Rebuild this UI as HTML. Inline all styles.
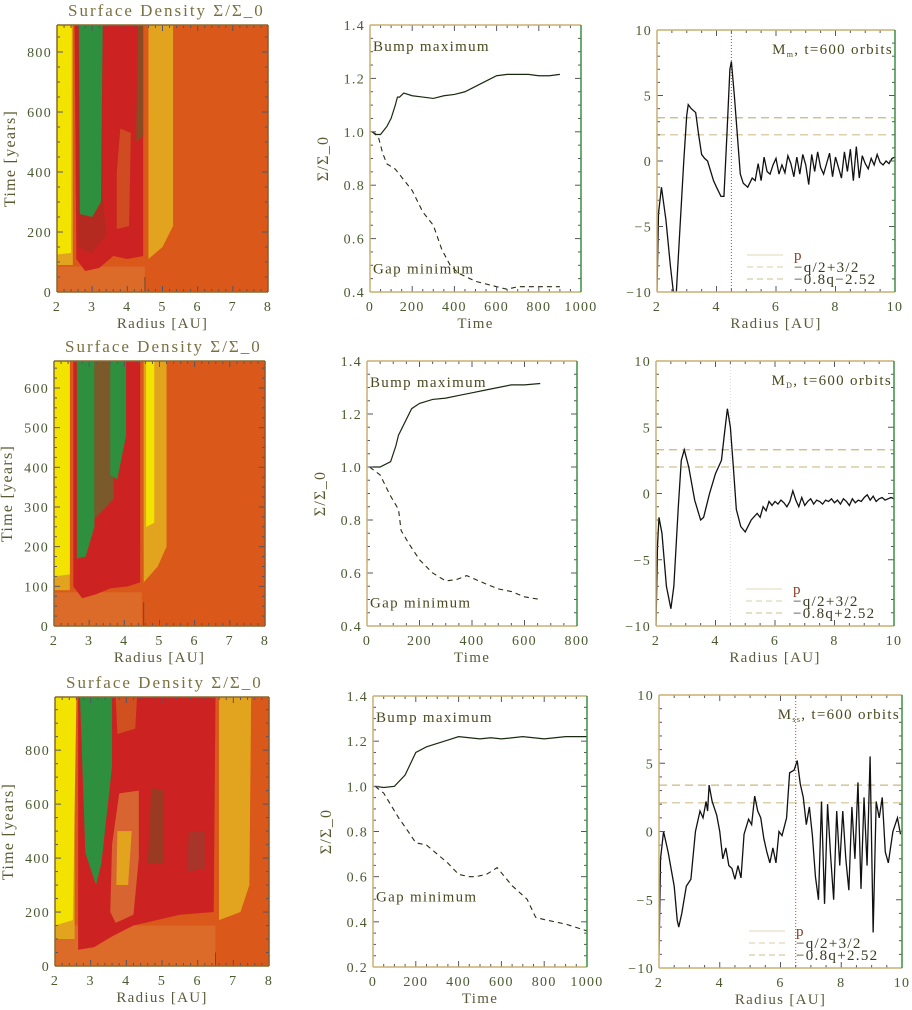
<!DOCTYPE html>
<html><head><meta charset="utf-8">
<style>
html,body{margin:0;padding:0;background:#fff;}
svg{display:block;}
text{font-family:"Liberation Serif","DejaVu Serif",serif;}
.sp{letter-spacing:1.3px;}
</style></head>
<body>
<svg id="fig" width="912" height="1010" viewBox="0 0 912 1010" xmlns="http://www.w3.org/2000/svg"></svg>
<script>
// ===== Heatmap region data (radius AU, time years, colour) =====
const heat1Regions = [
  [[[2,0],[8,0],[8,890],[2,890]], '#d9581a'],
  [[[2,0],[4.5,0],[4.5,85],[2,85]], '#dc6a28'],
  [[[2,90],[2.45,90],[2.45,890],[2,890]], '#e2a41e'],
  [[[2,125],[2.4,130],[2.42,890],[2,890]], '#f2e400'],
  [[[2.55,110],[2.8,70],[3.2,80],[3.6,120],[4.0,110],[4.45,120],[4.45,890],[2.5,890]], '#cc2222'],
  [[[2.6,150],[3.0,130],[3.4,190],[3.3,320],[3.3,890],[2.6,890]], '#b52a20'],
  [[[2.65,260],[3.0,250],[3.25,300],[3.3,890],[2.62,890]], '#2e8f3e'],
  [[[3.7,210],[4.05,220],[4.1,530],[3.8,545],[3.7,400]], '#d04a22'],
  [[[4.25,500],[4.45,520],[4.45,890],[4.3,890]], '#8a4a22'],
  [[[4.6,110],[5.0,150],[5.3,220],[5.3,890],[4.6,890]], '#e2a41e']
];
const heat2Regions = [
  [[[2,0],[8,0],[8,668],[2,668]], '#d9581a'],
  [[[2,0],[4.5,0],[4.5,85],[2,85]], '#dc6a28'],
  [[[2,90],[2.45,90],[2.45,668],[2,668]], '#e2a41e'],
  [[[2,125],[2.45,130],[2.45,668],[2,668]], '#f2e400'],
  [[[2.55,100],[2.8,70],[3.2,80],[3.6,95],[4.1,100],[4.45,110],[4.45,668],[2.55,668]], '#cc2222'],
  [[[2.65,170],[2.9,175],[3.15,250],[3.15,668],[2.65,668]], '#2e8f3e'],
  [[[3.15,270],[3.7,320],[3.65,668],[3.15,668]], '#7a5a2a'],
  [[[3.6,380],[3.8,370],[4.05,480],[4.05,668],[3.6,668]], '#2e8f3e'],
  [[[4.55,110],[4.95,150],[5.2,200],[5.2,668],[4.55,668]], '#e2a41e'],
  [[[4.62,250],[4.85,260],[4.85,668],[4.62,668]], '#f2e400']
];
const heat3Regions = [
  [[[2,0],[8,0],[8,997],[2,997]], '#d9581a'],
  [[[2,0],[6.5,0],[6.5,150],[2,150]], '#dc6a28'],
  [[[2,100],[2.55,100],[2.55,997],[2,997]], '#e2a41e'],
  [[[2,150],[2.5,170],[2.6,997],[2,997]], '#f2e400'],
  [[[2.65,60],[3.1,70],[3.6,110],[4.2,150],[5.5,190],[6.45,200],[6.5,997],[2.65,997]], '#cc2222'],
  [[[3.7,160],[4.2,190],[4.35,400],[4.35,650],[3.8,640],[3.6,450],[3.55,200]], '#d86432'],
  [[[3.72,300],[4.05,300],[4.15,500],[3.75,500]], '#e2a41e'],
  [[[3.75,860],[4.25,880],[4.3,997],[3.7,997]], '#d05020'],
  [[[4.6,380],[5.05,380],[5.05,650],[4.7,660]], '#9a3a22'],
  [[[5.7,350],[6.2,360],[6.2,500],[5.75,500]], '#a8342a'],
  [[[2.85,420],[3.15,300],[3.3,380],[3.6,740],[3.6,997],[2.7,997]], '#2e8f3e'],
  [[[6.6,170],[7.2,200],[7.45,300],[7.5,997],[6.6,997]], '#e2a41e']
];
const heatPlanet = [4.5, 4.55, 6.5];

// ===== Extremum time series =====
const t1 = [10,30,50,80,100,120,130,140,160,200,250,300,350,400,450,500,550,600,650,700,750,800,850,900];
const bump1 = [1.0,0.99,0.99,1.02,1.05,1.1,1.13,1.13,1.145,1.135,1.13,1.125,1.135,1.14,1.15,1.17,1.19,1.21,1.215,1.215,1.215,1.21,1.21,1.215];
const gapT1 = [10,40,60,80,120,160,200,250,300,340,380,420,500,550,600,650,700,800,900];
const gap1 = [1.0,0.98,0.92,0.88,0.86,0.82,0.78,0.70,0.65,0.56,0.50,0.47,0.44,0.43,0.42,0.41,0.42,0.42,0.42];
const t2 = [10,50,90,110,120,150,170,200,250,300,350,400,450,500,550,600,660];
const bump2 = [1.0,1.0,1.02,1.08,1.12,1.18,1.22,1.24,1.255,1.26,1.27,1.28,1.29,1.30,1.31,1.31,1.315];
const gapT2 = [10,50,90,120,130,160,200,250,300,340,380,450,500,550,600,660];
const gap2 = [1.0,0.97,0.89,0.84,0.76,0.71,0.65,0.60,0.57,0.575,0.59,0.56,0.54,0.53,0.51,0.50];
const t3 = [10,50,100,150,200,250,300,350,400,450,500,550,600,700,800,900,1000];
const bump3 = [1.0,0.995,1.0,1.05,1.15,1.175,1.19,1.205,1.22,1.215,1.21,1.215,1.21,1.22,1.21,1.22,1.22];
const gapT3 = [10,50,120,150,200,250,300,350,400,450,480,530,580,650,720,760,800,850,900,1000];
const gap3 = [1.0,0.97,0.86,0.82,0.75,0.74,0.70,0.66,0.61,0.60,0.60,0.61,0.64,0.56,0.50,0.42,0.41,0.40,0.39,0.36];

// ===== Radial profiles =====
const r1 = [2.0,2.05,2.15,2.3,2.45,2.55,2.65,2.8,2.9,3.0,3.05,3.15,3.3,3.4,3.5,3.6,3.7,3.9,4.0,4.15,4.25,4.35,4.45,4.5,4.6,4.7,4.8,4.9,5.05,5.2,5.3,5.4,5.5,5.6,5.7,5.8,5.9,6.0,6.1,6.2,6.3,6.4,6.5,6.6,6.7,6.8,6.9,7.0,7.1,7.2,7.3,7.4,7.5,7.6,7.7,7.8,7.9,8.0,8.1,8.2,8.3,8.4,8.5,8.6,8.7,8.8,8.9,9.0,9.1,9.2,9.3,9.4,9.5,9.6,9.7,9.8,9.9,10.0];
const p1 = [-10,-4,-2,-4.5,-8,-10,-10,-4,0,3.5,4.3,4.0,3.7,2,0.5,0.2,0,-1.5,-2,-2.7,-2.7,2,7,7.6,5,2,-1,-1.7,-2,-1.3,-1.5,-0.2,-1.5,0.3,-0.8,-1,-0.3,0.2,-1,-0.3,-0.9,0.4,-0.2,-1.2,0.3,-1,0.5,-0.3,-1.8,0.5,-0.8,0.7,-0.5,-1,-0.2,0.6,-1.2,0.3,-0.5,-1.3,0.7,-0.8,0.9,-1.5,1.1,-1.3,0.4,-0.2,-0.6,0.2,-0.3,0.5,-0.1,-0.3,0,-0.2,0.2,0.3];
const r2 = [2.0,2.05,2.1,2.2,2.35,2.5,2.6,2.75,2.85,2.95,3.1,3.3,3.5,3.6,3.8,4.0,4.2,4.3,4.4,4.5,4.6,4.7,4.85,5.0,5.2,5.4,5.5,5.6,5.7,5.8,5.9,6.0,6.1,6.2,6.3,6.4,6.5,6.6,6.7,6.8,6.9,7.0,7.1,7.2,7.3,7.4,7.5,7.6,7.7,7.8,7.9,8.0,8.1,8.2,8.3,8.4,8.5,8.6,8.7,8.8,8.9,9.0,9.1,9.2,9.3,9.4,9.5,9.6,9.7,9.8,9.9,10.0];
const p2 = [-10,-4,-1.8,-3,-7,-8.7,-7,-1,2.5,3.3,2,-0.5,-2,-1.8,0,1.5,2.5,4.5,6.4,5,2,-1.2,-2.5,-2.9,-2,-1.5,-1.8,-1.0,-1.3,-0.6,-0.9,-0.6,-0.8,-0.5,-0.7,-1,-0.6,0.2,-0.5,-1,-0.3,-0.9,-0.6,-0.4,-0.8,-0.5,-0.6,-0.8,-0.5,-0.6,-0.4,-0.7,-0.5,-0.8,-0.4,-0.6,-0.9,-0.4,-0.7,-0.5,-0.6,-0.3,-0.1,-0.5,-0.2,-0.6,-0.4,-0.3,-0.5,-0.4,-0.3,-0.4];
const r3 = [2.0,2.05,2.15,2.3,2.5,2.6,2.65,2.75,2.9,3.05,3.2,3.35,3.45,3.55,3.6,3.65,3.75,3.9,4.0,4.1,4.2,4.3,4.4,4.5,4.6,4.7,4.8,4.95,5.05,5.15,5.25,5.35,5.45,5.55,5.65,5.75,5.85,5.95,6.05,6.2,6.3,6.45,6.55,6.65,6.75,6.85,6.95,7.05,7.15,7.25,7.35,7.45,7.55,7.65,7.75,7.85,7.95,8.05,8.15,8.25,8.35,8.45,8.55,8.65,8.75,8.85,8.95,9.05,9.15,9.25,9.35,9.45,9.55,9.7,9.85,9.95];
const p3 = [-9,-2,0,-1.5,-4,-6.5,-7,-6,-4,-3.5,0,1.5,1,2.2,1.5,3.4,2.2,1.2,0,-2,-1.2,-2.5,-2.7,-3.5,-2.5,-3.4,-0.2,0.9,0.5,2.6,1.5,1,-0.5,-1.5,-2.3,-1.2,-2.3,0,-0.3,1,4.3,4.5,5.2,3.5,2.5,0.5,1.8,-0.3,-3.3,-5,2.2,-5.3,2,-1.8,-5,1.5,-2.5,1.5,-2,-4.3,1.8,-2,3.6,-4.2,2.5,-2.5,5.5,-7.4,2.2,1,2.5,-1.5,-2.3,0,1,-0.2];
const refLines1 = [3.3, 2.0];
const refLines2 = [3.3, 2.0];
const refLines3 = [3.4, 2.1];

// ===== rendering =====
const NS = 'http://www.w3.org/2000/svg';
const svg = document.getElementById('fig');
function mk(tag, attrs, parent) {
  const e = document.createElementNS(NS, tag);
  for (const k in attrs) e.setAttribute(k, attrs[k]);
  (parent || svg).appendChild(e);
  return e;
}
function txt(s, x, y, size, fill, anchor, parent, cls) {
  const t = mk('text', {x: x, y: y, 'font-size': size, fill: fill, 'text-anchor': anchor || 'start'}, parent);
  if (cls) t.setAttribute('class', cls);
  t.textContent = s;
  return t;
}
function scale(d0, d1, p0, p1) { return v => p0 + (v - d0) * (p1 - p0) / (d1 - d0); }

function axes(g, b, xs, ys, xr, yr, xMaj, xMin, yMaj, yMin, yFmt, xTitle, yTitle, frame) {
  for (let v = xr[0]; v <= xr[1] + 1e-9; v += xMin) {
    const maj = Math.abs(Math.round((v - xr[0]) / xMaj) * xMaj - (v - xr[0])) < 1e-6;
    const L = maj ? 6 : 3;
    mk('line', {x1: xs(v), x2: xs(v), y1: b.y1, y2: b.y1 - L, stroke: '#556', 'stroke-width': 1}, g);
    mk('line', {x1: xs(v), x2: xs(v), y1: b.y0, y2: b.y0 + L, stroke: '#556', 'stroke-width': 1}, g);
  }
  for (let v = yr[0]; v <= yr[1] + 1e-9; v += yMin) {
    const maj = Math.abs(Math.round((v - yr[0]) / yMaj) * yMaj - (v - yr[0])) < 1e-6;
    const L = maj ? 6 : 3;
    mk('line', {x1: b.x0, x2: b.x0 + L, y1: ys(v), y2: ys(v), stroke: '#556', 'stroke-width': 1}, g);
    mk('line', {x1: b.x1, x2: b.x1 - L, y1: ys(v), y2: ys(v), stroke: '#556', 'stroke-width': 1}, g);
  }
  const f = frame || ['#c8b070', '#3a9040'];
  mk('line', {x1: b.x0, y1: b.y0, x2: b.x1, y2: b.y0, stroke: f[0], 'stroke-width': 1.5}, g);
  mk('line', {x1: b.x0, y1: b.y1, x2: b.x1, y2: b.y1, stroke: f[0], 'stroke-width': 1.5}, g);
  mk('line', {x1: b.x0, y1: b.y0, x2: b.x0, y2: b.y1, stroke: f[0], 'stroke-width': 1.5}, g);
  mk('line', {x1: b.x1, y1: b.y0, x2: b.x1, y2: b.y1, stroke: f[1], 'stroke-width': 1.5}, g);
  for (let v = xr[0]; v <= xr[1] + 1e-9; v += xMaj) {
    const t = txt(String(Math.round(v)), xs(v), b.y1 + 19, 14, '#4a5a30', 'middle', g, 'sp');
    
    
  }
  for (let v = yr[0]; v <= yr[1] + 1e-9; v += yMaj) {
    const t = txt(yFmt(v), b.x0 - 5, ys(v) + 5, 14, '#4a5a30', 'end', g, 'sp');
    
    
  }
  const xt = txt(xTitle, (b.x0 + b.x1) / 2, b.y1 + 36, 15, '#5a5a3a', 'middle', g, 'sp');
  
  
  const yt = txt(yTitle, 0, 0, 16, '#5a5a30', 'middle', g, 'sp');
  yt.setAttribute('transform', 'translate(' + (b.x0 - 42) + ',' + ((b.y0 + b.y1) / 2) + ') rotate(-90)');
  
  
}

function heatPanel(name, b, tMax, regions, planet, yMaj, yMin) {
  const g = mk('g', {});
  
  
  const xs = scale(2, 8, b.x0, b.x1), ys = scale(0, tMax, b.y1, b.y0);
  regions.forEach(r => {
    const p = mk('polygon', {points: r[0].map(q => xs(q[0]) + ',' + ys(q[1])).join(' '), fill: r[1]}, g);
    
    
  });
  const pl = mk('line', {x1: xs(planet), x2: xs(planet), y1: ys(tMax < 700 ? 60 : 50), y2: b.y1, stroke: '#6a4a3a', 'stroke-width': 1}, g);
  
  
  axes(g, b, xs, ys, [2, 8], [0, Math.floor(tMax / yMin) * yMin], 1, 0.2, yMaj, yMin, v => String(Math.round(v)), 'Radius [AU]', 'Time [years]', ['#8a6a30', '#8a5a30']);
  const t = txt('Surface Density Σ/Σ_0', b.x0 + 11, b.y0 - 9, 17, '#7a7040', 'start', g);
  t.setAttribute('style', 'letter-spacing:2px');
  
  
}

function linePanel(name, b, xMax, yMin0, xs_, bump, gxs, gap, xMaj) {
  const g = mk('g', {});
  
  
  const xs = scale(0, xMax, b.x0, b.x1), ys = scale(yMin0, 1.4, b.y1, b.y0);
  const bp = mk('polyline', {points: xs_.map((v, i) => xs(v) + ',' + ys(bump[i])).join(' '), fill: 'none', stroke: '#1a2a10', 'stroke-width': 1.2}, g);
  
  
  const gp = mk('polyline', {points: gxs.map((v, i) => xs(v) + ',' + ys(gap[i])).join(' '), fill: 'none', stroke: '#2a2a10', 'stroke-width': 1.1, 'stroke-dasharray': '5,4'}, g);
  
  
  axes(g, b, xs, ys, [0, xMax], [yMin0, 1.4], xMaj, xMaj / 4, 0.2, 0.05, v => v.toFixed(1), 'Time', 'Σ/Σ_0');
  const l1 = txt('Bump maximum', b.x0 + 3, b.y0 + 26, 15, '#4a4a20', 'start', g, 'sp');
  
  
  const l2 = txt('Gap minimum', b.x0 + 3, ys(yMin0 < 0.3 ? 0.49 : 0.47), 15, '#4a4a20', 'start', g, 'sp');
  
  
}

function profilePanel(name, b, rs, ps, planet, refs, sub, pColor, legNames) {
  const g = mk('g', {});
  
  
  const xs = scale(2, 10, b.x0, b.x1), ys = scale(-10, 10, b.y1, b.y0);
  const cp = mk('clipPath', {id: name + '-clip'}, g);
  mk('rect', {x: b.x0, y: b.y0, width: b.x1 - b.x0, height: b.y1 - b.y0}, cp);
  refs.forEach((v, i) => {
    const l = mk('line', {x1: b.x0, x2: b.x1, y1: ys(v), y2: ys(v), stroke: i == 0 ? '#c8b880' : '#d0c090', 'stroke-width': 1.2, 'stroke-dasharray': '8,5'}, g);
    
    
  });
  const pl = mk('line', {x1: xs(planet), x2: xs(planet), y1: b.y0, y2: b.y1, stroke: pColor, 'stroke-width': 1, 'stroke-dasharray': '1,2'}, g);
  
  
  const c = mk('polyline', {points: rs.map((v, i) => xs(v) + ',' + ys(ps[i])).join(' '), fill: 'none', stroke: '#111', 'stroke-width': 1.3, 'clip-path': 'url(#' + name + '-clip)'}, g);
  
  
  axes(g, b, xs, ys, [2, 10], [-10, 10], 2, 0.5, 5, 1, v => v < 0 ? '\u2212' + Math.abs(v) : String(v), 'Radius [AU]', '');
  const t = mk('text', {x: b.x1 - 2, y: b.y0 + 24, 'font-size': 15, fill: '#4a4a20', 'text-anchor': 'end', 'class': 'sp'}, g);
  
  
  t.appendChild(document.createTextNode('M'));
  const s = mk('tspan', {'font-size': 8, dy: 3}, t); s.textContent = sub;
  const r = mk('tspan', {dy: -3}, t); r.textContent = ', t=600 orbits';
  const ly = b.y1 - 37;
  const legC = ['#e8e0c8', '#e0d8b8', '#d8cca8'];
  legNames.forEach((n, i) => {
    const ll = mk('line', {x1: b.x0 + 90, x2: b.x0 + 126, y1: ly + i * 12, y2: ly + i * 12, stroke: legC[i], 'stroke-width': 1.2, 'stroke-dasharray': i ? '6,4' : ''}, g);
    
    
    const lt = txt(n, b.x0 + 137, ly + 5 + i * 12, 15, i == 0 ? '#8a3a20' : '#3a3a20', 'start', g, 'sp');
    
    
  });
}

heatPanel('heatmap-row1', {x0: 57, x1: 268, y0: 25, y1: 292}, 890, heat1Regions, heatPlanet[0], 200, 50);
heatPanel('heatmap-row2', {x0: 54, x1: 265, y0: 361, y1: 626}, 668, heat2Regions, heatPlanet[1], 100, 25);
heatPanel('heatmap-row3', {x0: 55, x1: 269, y0: 697, y1: 966}, 997, heat3Regions, heatPlanet[2], 200, 50);

linePanel('extrema-row1', {x0: 370, x1: 581, y0: 25, y1: 292}, 1000, 0.4, t1, bump1, gapT1, gap1, 200);
linePanel('extrema-row2', {x0: 367, x1: 577, y0: 361, y1: 626}, 800, 0.4, t2, bump2, gapT2, gap2, 200);
linePanel('extrema-row3', {x0: 373, x1: 587, y0: 696, y1: 967}, 1000, 0.2, t3, bump3, gapT3, gap3, 200);

profilePanel('profile-row1', {x0: 657, x1: 895, y0: 30, y1: 292}, r1, p1, 4.5, refLines1, 'm', '#d04020', ['p', '\u2212q/2+3/2', '\u22120.8q\u22122.52']);
profilePanel('profile-row2', {x0: 656, x1: 894, y0: 361, y1: 626}, r2, p2, 4.5, refLines2, 'D', '#d8d8d8', ['p', '\u2212q/2+3/2', '\u22120.8q+2.52']);
profilePanel('profile-row3', {x0: 659, x1: 902, y0: 695, y1: 968}, r3, p3, 6.5, refLines3, 'ss', '#d04020', ['p', '\u2212q/2+3/2', '\u22120.8q+2.52']);
</script>
</body></html>
